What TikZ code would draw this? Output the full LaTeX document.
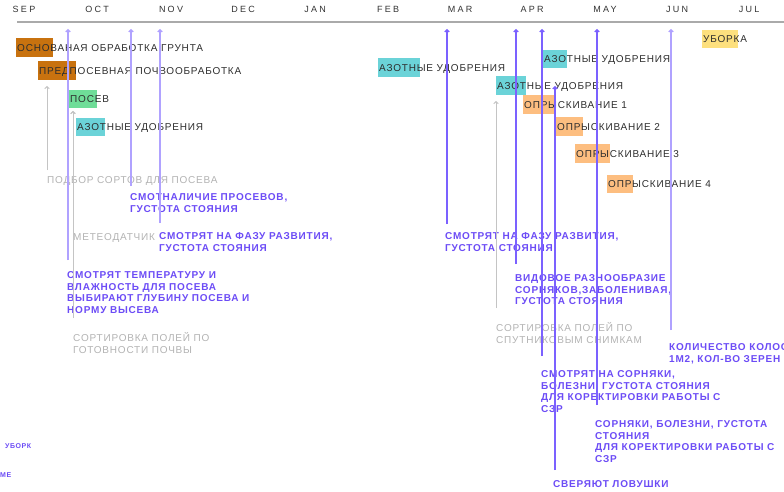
\documentclass[tikz,border=0pt]{standalone}
\usepackage{fontspec}
\setmainfont{Liberation Sans}
\newfontfamily\lblfont{Liberation Sans}[LetterSpace=8]
\newfontfamily\monfont{Liberation Sans}[LetterSpace=25]
\usetikzlibrary{arrows.meta}
\definecolor{brownc}{HTML}{C8720F}
\definecolor{greenc}{HTML}{6FDD98}
\definecolor{cyanc}{HTML}{6BD3D8}
\definecolor{orangec}{HTML}{FDBE80}
\definecolor{yellowc}{HTML}{FDE07E}
\definecolor{ptext}{HTML}{6C4CF6}
\definecolor{pdark}{HTML}{7B61FF}
\definecolor{plight}{HTML}{B0A2FF}
\definecolor{gline}{HTML}{C4C4C4}
\definecolor{gtext}{HTML}{B3B3B3}
\definecolor{bartextc}{HTML}{2E2E2E}
\definecolor{monc}{HTML}{333333}
\definecolor{axisc}{HTML}{AAAAAA}
\tikzset{
  mon/.style={font=\monfont\fontsize{9}{11}\selectfont, text=monc, inner sep=0, anchor=base},
  barbox/.style={draw=none, inner sep=0, anchor=north west, minimum width=#1},
  bartext/.style={font=\lblfont\fontsize{10}{11.5}\selectfont, text=bartextc, inner sep=0, anchor=west, text height=7.2pt, text depth=0pt},
  plabel/.style={font=\lblfont\bfseries\fontsize{10}{11.5}\selectfont, text=ptext, inner sep=0, anchor=north west, align=left},
  glabel/.style={font=\lblfont\fontsize{10}{11.5}\selectfont, text=gtext, inner sep=0, anchor=north west, align=left},
  frag/.style={font=\lblfont\bfseries\fontsize{7}{8}\selectfont, text=ptext, inner sep=0, anchor=west},
  pl/.style={draw=pdark, line width=1.3pt, -{Straight Barb[length=2pt,width=4.5pt]}},
  plt/.style={draw=plight, line width=1.3pt, -{Straight Barb[length=2pt,width=4.5pt]}},
  gl/.style={draw=gline, line width=1pt, -{Straight Barb[length=2pt,width=4.5pt]}},
}
\begin{document}
\begin{tikzpicture}[x=1pt,y=-1pt]
\useasboundingbox[fill=white] (0,0) rectangle (784,492);

% axis
\coordinate (axL) at (17,22);
\coordinate (axR) at (784,22);
\draw[axisc, line width=1.5pt] (axL) -- (axR);
\node[mon] (mSep) at (24,12.5) {SEP};
\node[mon] (mOct) at (97,12.5) {OCT};
\node[mon] (mNov) at (171,12.5) {NOV};
\node[mon] (mDec) at (243,12.5) {DEC};
\node[mon] (mJan) at (315,12.5) {JAN};
\node[mon] (mFeb) at (388,12.5) {FEB};
\node[mon] (mMar) at (460,12.5) {MAR};
\node[mon] (mApr) at (532,12.5) {APR};
\node[mon] (mMay) at (605,12.5) {MAY};
\node[mon] (mJun) at (677,12.5) {JUN};
\node[mon] (mJul) at (749,12.5) {JUL};

% bars
\node[barbox=37pt, minimum height=19pt, fill=brownc] (b1) at (16,38) {};
\node[barbox=38pt, minimum height=19pt, fill=brownc] (b2) at (38,61) {};
\node[barbox=28pt, minimum height=18pt, fill=greenc] (b3) at (69,90) {};
\node[barbox=29pt, minimum height=18pt, fill=cyanc] (b4) at (76,118) {};
\node[barbox=42pt, minimum height=19pt, fill=cyanc] (b5) at (378,58) {};
\node[barbox=24pt, minimum height=18pt, fill=cyanc] (b6) at (543,50) {};
\node[barbox=30pt, minimum height=19pt, fill=cyanc] (b7) at (496,76) {};
\node[barbox=31pt, minimum height=19pt, fill=orangec] (b8) at (523,95) {};
\node[barbox=27pt, minimum height=19pt, fill=orangec] (b9) at (556,117) {};
\node[barbox=35pt, minimum height=19pt, fill=orangec] (b10) at (575,144) {};
\node[barbox=26pt, minimum height=18pt, fill=orangec] (b11) at (607,175) {};
\node[barbox=36pt, minimum height=18pt, fill=yellowc] (b12) at (702,30) {};

% bar texts
\node[bartext] (x1) at ([xshift=1pt]b1.west) {ОСНОВАНАЯ ОБРАБОТКА ГРУНТА};
\node[bartext] (x2) at ([xshift=1pt]b2.west) {ПРЕДПОСЕВНАЯ ПОЧВООБРАБОТКА};
\node[bartext] (x3) at ([xshift=1pt]b3.west) {ПОСЕВ};
\node[bartext] (x4) at ([xshift=1pt]b4.west) {АЗОТНЫЕ УДОБРЕНИЯ};
\node[bartext] (x5) at ([xshift=1pt]b5.west) {АЗОТНЫЕ УДОБРЕНИЯ};
\node[bartext] (x6) at ([xshift=1pt]b6.west) {АЗОТНЫЕ УДОБРЕНИЯ};
\node[bartext] (x7) at ([xshift=1pt]b7.west) {АЗОТНЫЕ УДОБРЕНИЯ};
\node[bartext] (x8) at ([xshift=1pt]b8.west) {ОПРЫСКИВАНИЕ 1};
\node[bartext] (x9) at ([xshift=1pt]b9.west) {ОПРЫСКИВАНИЕ 2};
\node[bartext] (x10) at ([xshift=1pt]b10.west) {ОПРЫСКИВАНИЕ 3};
\node[bartext] (x11) at ([xshift=1pt]b11.west) {ОПРЫСКИВАНИЕ 4};
\node[bartext] (x12) at ([xshift=1pt]b12.west) {УБОРКА};

% arrow tips
\coordinate (tA) at (68,29);
\coordinate (tB) at (131,29);
\coordinate (tC) at (160,29);
\coordinate (tD) at (447,29);
\coordinate (tE) at (516,29);
\coordinate (tF) at (542,29);
\coordinate (tG) at (555,86);
\coordinate (tH) at (597,29);
\coordinate (tI) at (671,29);
\coordinate (gA) at (47,86);
\coordinate (gB) at (73,111);
\coordinate (gC) at (496,101);

% gray labels
\node[glabel] (mA) at (47,176.4) {ПОДБОР СОРТОВ ДЛЯ ПОСЕВА};
\node[glabel] (mB) at (73,233.4) {МЕТЕОДАТЧИК};
\node[glabel] (mC) at (73,332.4) {СОРТИРОВКА ПОЛЕЙ ПО\\ГОТОВНОСТИ ПОЧВЫ};
\node[glabel] (mD) at (496,322.4) {СОРТИРОВКА ПОЛЕЙ ПО\\СПУТНИКОВЫМ СНИМКАМ};

% purple labels
\node[plabel] (lA) at (67,271.4) {СМОТРЯТ ТЕМПЕРАТУРУ И\\ВЛАЖНОСТЬ ДЛЯ ПОСЕВА\\ВЫБИРАЮТ ГЛУБИНУ ПОСЕВА И\\НОРМУ ВЫСЕВА};
\node[plabel] (lB) at (130,193.4) {СМОТНАЛИЧИЕ ПРОСЕВОВ,\\ГУСТОТА СТОЯНИЯ};
\node[plabel] (lC) at (159,232.4) {СМОТРЯТ НА ФАЗУ РАЗВИТИЯ,\\ГУСТОТА СТОЯНИЯ};
\node[plabel] (lD) at (445,232.4) {СМОТРЯТ НА ФАЗУ РАЗВИТИЯ,\\ГУСТОТА СТОЯНИЯ};
\node[plabel] (lE) at (515,274.4) {ВИДОВОЕ РАЗНООБРАЗИЕ\\СОРНЯКОВ,ЗАБОЛЕНИВАЯ,\\ГУСТОТА СТОЯНИЯ};
\node[plabel] (lF) at (541,370.4) {СМОТРЯТ НА СОРНЯКИ,\\БОЛЕЗНИ, ГУСТОТА СТОЯНИЯ\\ДЛЯ КОРЕКТИРОВКИ РАБОТЫ С\\СЗР};
\node[plabel] (lG) at (553,480.4) {СВЕРЯЮТ ЛОВУШКИ};
\node[plabel] (lH) at (595,420.4) {СОРНЯКИ, БОЛЕЗНИ, ГУСТОТА\\СТОЯНИЯ\\ДЛЯ КОРЕКТИРОВКИ РАБОТЫ С\\СЗР};
\node[plabel] (lI) at (669,343.4) {КОЛИЧЕСТВО КОЛОС\\1М2, КОЛ-ВО ЗЕРЕН};

% fragments
\node[frag] (fA) at (5,446) {УБОРК};
\node[frag] (fB) at (0,475) {МЕ};

% connectors
\draw[gl, shorten <=6.4pt] (mA.north -| gA) -- (gA);
\draw[gl, shorten <=8.4pt] (mB.north -| gB) -- (gB);
\draw[gl, shorten <=14.4pt] (mC.north -| gB) -- (gB);
\draw[gl, shorten <=14.4pt] (mD.north -| gC) -- (gC);
\draw[plt, shorten <=11.4pt] (lA.north -| tA) -- (tA);
\draw[plt, shorten <=7.4pt] (lB.north -| tB) -- (tB);
\draw[plt, shorten <=9.4pt] (lC.north -| tC) -- (tC);
\draw[pl, shorten <=8.4pt] (lD.north -| tD) -- (tD);
\draw[pl, shorten <=10.4pt] (lE.north -| tE) -- (tE);
\draw[pl, shorten <=14.4pt] (lF.north -| tF) -- (tF);
\draw[pl, shorten <=10.4pt] (lG.north -| tG) -- (tG);
\draw[pl, shorten <=15.4pt] (lH.north -| tH) -- (tH);
\draw[plt, shorten <=13.4pt] (lI.north -| tI) -- (tI);
\end{tikzpicture}
\end{document}
